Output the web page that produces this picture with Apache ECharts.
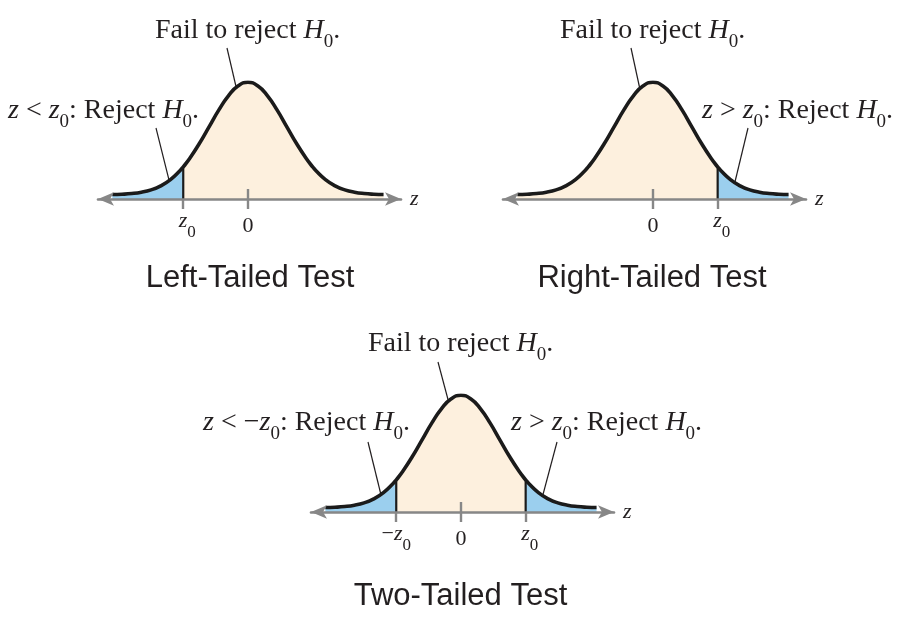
<!DOCTYPE html>
<html><head><meta charset="utf-8">
<script src="https://cdn.jsdelivr.net/npm/echarts@6/dist/echarts.min.js"></script>
<style>html,body{margin:0;padding:0;background:#fff}#c{width:916px;height:623px}</style>
</head><body><div id="c"></div>
<script>
// ---- data (standard normal curve, z from -3.5 to 3.5) ----
const zValues = [-3.5,-3.25,-3,-2.75,-2.5,-2.25,-2,-1.75,-1.67,-1.5,-1.25,-1,-0.75,-0.5,-0.25,0,0.25,0.5,0.75,1,1.25,1.5,1.67,1.75,2,2.25,2.5,2.75,3,3.25,3.5];
const density = [0.0009,0.0020,0.0044,0.0091,0.0175,0.0317,0.0540,0.0863,0.0989,0.1295,0.1826,0.2420,0.3011,0.3521,0.3867,0.3989,0.3867,0.3521,0.3011,0.2420,0.1826,0.1295,0.0989,0.0863,0.0540,0.0317,0.0175,0.0091,0.0044,0.0020,0.0009];
const criticalZ = 1.67;
const leftTicks = [-1.67, 0];
const leftTickLabels = ['z0', '0'];
const rightTicks = [0, 1.67];
const rightTickLabels = ['0', 'z0'];
const twoTicks = [-1.67, 0, 1.67];
const twoTickLabels = ['\u2212z0', '0', 'z0'];
const panelTitles = ['Left-Tailed Test', 'Right-Tailed Test', 'Two-Tailed Test'];

// ---- style / layout ----
const INK = '#231f20', CURVE = '#1b1b1b', GRAY = '#878787';
const CREAM = '#fdf0de', BLUE = '#9bcfee';
const SERIF = '"Liberation Serif", "Times New Roman", serif';
const SANS = '"Liberation Sans", Arial, sans-serif';
const Y_MIN = -0.015, Y_MAX = 0.4, X_MIN = -3.87, X_MAX = 3.95;

const panels = [
  {grid:{left:98, top:82, width:303, height:117}, ticks:leftTicks, labels:leftTickLabels, tail:'left'},
  {grid:{left:503, top:82, width:303, height:117}, ticks:rightTicks, labels:rightTickLabels, tail:'right'},
  {grid:{left:311, top:395, width:303, height:117}, ticks:twoTicks, labels:twoTickLabels, tail:'both'}
];

const pts = zValues.map((z, k) => [z, density[k]]);
const dens = z => density[zValues.indexOf(z)];

const labelRich = {
  n:  {fontFamily:SERIF, fontSize:22, color:INK, verticalAlign:'top', padding:[10,0,0,0]},
  zp: {fontFamily:SERIF, fontSize:22, fontStyle:'italic', color:INK, verticalAlign:'top', padding:[5,0,0,8]},
  z:  {fontFamily:SERIF, fontSize:22, fontStyle:'italic', color:INK, verticalAlign:'top', padding:[5,0,0,0]},
  m:  {fontFamily:SERIF, fontSize:22, color:INK, verticalAlign:'top', padding:[5,0,0,0]},
  s:  {fontFamily:SERIF, fontSize:17, color:INK, verticalAlign:'top', padding:[19,0,0,0]}
};
function tickRich(lbl) {
  if (lbl === '0') return '{n|0}';
  if (lbl === 'z0') return '{zp|z}{s|0}';
  return '{m|\u2212}{z|z}{s|0}';
}

const grids = [], xAxes = [], yAxes = [], series = [];
panels.forEach((p, i) => {
  grids.push(Object.assign({containLabel:false}, p.grid));
  xAxes.push({
    gridIndex:i, type:'value', min:X_MIN, max:X_MAX, z:10,
    axisLine:{show:true, onZero:false, symbol:['arrow','arrow'], symbolSize:[10,16], lineStyle:{color:GRAY, width:2.6}},
    axisTick:{show:true, customValues:p.ticks, length:10, lineStyle:{color:GRAY, width:2.4}},
    axisLabel:{show:true, customValues:p.ticks, margin:6, fontFamily:SERIF, fontSize:22, color:INK,
      formatter:(v) => tickRich(p.labels[p.ticks.indexOf(v)]), rich:labelRich},
    splitLine:{show:false},
    name:'z', nameLocation:'end', nameGap:9,
    nameTextStyle:{fontFamily:SERIF, fontStyle:'italic', fontSize:22, color:INK}
  });
  xAxes.push({
    gridIndex:i, type:'value', min:X_MIN, max:X_MAX, z:10, position:'bottom',
    axisLine:{show:false, onZero:false},
    axisTick:{show:true, inside:true, customValues:[0], length:10, lineStyle:{color:GRAY, width:2.4}},
    axisLabel:{show:false}, splitLine:{show:false}
  });
  yAxes.push({gridIndex:i, type:'value', min:Y_MIN, max:Y_MAX, show:false});
  const xi = 2*i, yi = i;
  const area = (data, color) => ({
    type:'line', xAxisIndex:xi, yAxisIndex:yi, data, smooth:true, showSymbol:false, silent:true,
    lineStyle:{width:0}, areaStyle:{color, opacity:1, origin:'start'}, z:2
  });
  let crit = [];
  if (p.tail === 'left') {
    series.push(area(pts.filter(d => d[0] >= -criticalZ), CREAM));
    series.push(area(pts.filter(d => d[0] <= -criticalZ), BLUE));
    crit = [-criticalZ];
  } else if (p.tail === 'right') {
    series.push(area(pts.filter(d => d[0] <= criticalZ), CREAM));
    series.push(area(pts.filter(d => d[0] >= criticalZ), BLUE));
    crit = [criticalZ];
  } else {
    series.push(area(pts.filter(d => d[0] >= -criticalZ && d[0] <= criticalZ), CREAM));
    series.push(area(pts.filter(d => d[0] <= -criticalZ), BLUE));
    series.push(area(pts.filter(d => d[0] >= criticalZ), BLUE));
    crit = [-criticalZ, criticalZ];
  }
  crit.forEach(c => series.push({
    type:'line', xAxisIndex:xi, yAxisIndex:yi, data:[[c, Y_MIN],[c, dens(c)]], showSymbol:false, silent:true,
    lineStyle:{color:CURVE, width:2.2}, z:3
  }));
  series.push({
    type:'line', xAxisIndex:xi, yAxisIndex:yi, data:pts, smooth:true, showSymbol:false, silent:true,
    lineStyle:{color:CURVE, width:3.6}, z:4
  });
});

// ---- annotations ----
const annRich = {
  r: {fontFamily:SERIF, fontSize:28, color:INK, verticalAlign:'top'},
  i: {fontFamily:SERIF, fontSize:28, fontStyle:'italic', color:INK, verticalAlign:'top'},
  s: {fontFamily:SERIF, fontSize:19, color:INK, verticalAlign:'top', padding:[16,0,0,0]}
};
const FAIL = '{r|Fail to reject }{i|H}{s|0}{r|.}';
const REJ_L = '{i|z}{r| < }{i|z}{s|0}{r|: Reject }{i|H}{s|0}{r|.}';
const REJ_R = '{i|z}{r| > }{i|z}{s|0}{r|: Reject }{i|H}{s|0}{r|.}';
const REJ_2L = '{i|z}{r| < \u2212}{i|z}{s|0}{r|: Reject }{i|H}{s|0}{r|.}';
const annText = (x, y, text) => ({type:'text', x, y, silent:true,
  style:{text, rich:annRich, align:'left', verticalAlign:'top', fill:INK}});
const leader = (x1, y1, x2, y2) => ({type:'line', silent:true, shape:{x1,y1,x2,y2}, style:{stroke:INK, lineWidth:1.2}});
const titleText = (x, y, text) => ({type:'text', x, y, silent:true,
  style:{text, font:'31px ' + SANS, fill:INK, align:'center', verticalAlign:'middle'}});

const graphic = [
  annText(155, 17, FAIL), annText(8, 97, REJ_L),
  annText(560, 17, FAIL), annText(702, 97, REJ_R),
  annText(368, 330, FAIL), annText(203, 409, REJ_2L), annText(511, 409, REJ_R),
  leader(227,48,241,108), leader(156,128,171,188),
  leader(631,48,644,108), leader(748,128,733.5,188),
  leader(438,362,454,422), leader(368,442,383,503), leader(557,442,541,502),
  titleText(250, 278, panelTitles[0]), titleText(652, 278, panelTitles[1]), titleText(460.5, 596.5, panelTitles[2])
];

const chart = echarts.init(document.getElementById('c'), null, {renderer:'canvas'});
chart.setOption({
  animation:false, backgroundColor:'#fff',
  grid:grids, xAxis:xAxes, yAxis:yAxes, series, graphic
});
</script></body></html>
